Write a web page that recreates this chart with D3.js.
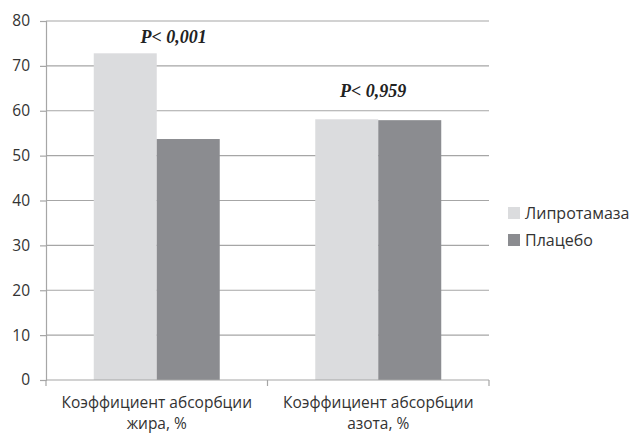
<!DOCTYPE html>
<html><head><meta charset="utf-8">
<script src="https://cdn.jsdelivr.net/npm/d3@7"></script>
<style>body{margin:0;background:#fff;} svg{display:block;}</style>
</head><body>
<svg id="c" width="632" height="435"></svg>
<script>
const categories = [["Коэффициент абсорбции","жира, %"],["Коэффициент абсорбции","азота, %"]];
const seriesNames = ["Липротамаза","Плацебо"];
const lipro = [72.8, 58.1];
const placebo = [53.7, 57.9];
const pLabels = ["P< 0,001","P< 0,959"];
const yTicks = [0,10,20,30,40,50,60,70,80];
const colors = ["#dbdcde","#8b8c90"];

const svg = d3.select("#c");
const m = {l:46, r:143, t:21, b:55};
const W = 632, H = 435;
const x = d3.scaleBand().domain(d3.range(categories.length)).range([m.l, W-m.r]).paddingInner(0).paddingOuter(0);
const x1 = d3.scaleBand().domain([0,1]).range([0, x.bandwidth()]).paddingOuter(0.758).paddingInner(0);
const y = d3.scaleLinear().domain([0,80]).range([H-m.b, m.t]);

// grid
svg.append("g").selectAll("line").data(yTicks.filter(d=>d>0)).join("line")
  .attr("x1", m.l).attr("x2", W-m.r).attr("y1", d=>y(d)).attr("y2", d=>y(d))
  .attr("stroke","#a6a6a6").attr("stroke-width",1.2);

// y axis
const ya = svg.append("g").attr("transform",`translate(${m.l},0)`)
  .call(d3.axisLeft(y).tickValues(yTicks).tickSize(6).tickPadding(10));
ya.select(".domain").attr("stroke","#a6a6a6").attr("stroke-width",1.2);
ya.selectAll(".tick line").attr("stroke","#a6a6a6").attr("stroke-width",1.2);
ya.selectAll("text").attr("font-family","Open Sans, sans-serif").attr("font-size",15.5).attr("fill","#333");

// bars
const data = [lipro, placebo];
const g = svg.append("g");
categories.forEach((c,i)=>{
  data.forEach((s,j)=>{
    g.append("rect").attr("x", x(i)+x1(j)).attr("width", x1.bandwidth())
     .attr("y", y(s[i])).attr("height", y(0)-y(s[i])).attr("fill", colors[j]);
  });
});

// x axis
const xa = svg.append("g").attr("transform",`translate(0,${y(0)})`);
xa.append("line").attr("x1",m.l).attr("x2",W-m.r).attr("stroke","#a6a6a6").attr("stroke-width",1.2);
const bounds = [m.l, ...categories.map((c,i)=>x(i)+x.bandwidth())];
xa.selectAll("line.t").data(bounds).join("line").attr("class","t")
  .attr("x1",d=>d).attr("x2",d=>d).attr("y1",0).attr("y2",6).attr("stroke","#a6a6a6").attr("stroke-width",1.2);
categories.forEach((c,i)=>{
  const t = xa.append("text").attr("text-anchor","middle").attr("font-family","Open Sans, sans-serif")
    .attr("font-size",15.5).attr("fill","#333");
  c.forEach((line,k)=>t.append("tspan").attr("x", x(i)+x.bandwidth()/2).attr("y", 28+k*21).text(line));
});

// p labels
const pDx = [17, -5], pDy = [10, 22];
pLabels.forEach((p,i)=>{
  const top = Math.max(lipro[i], placebo[i]);
  svg.append("text").attr("x", x(i)+x.bandwidth()/2 + pDx[i]).attr("y", y(top)-pDy[i])
    .attr("text-anchor","middle").attr("font-family","Liberation Serif, Times New Roman, serif")
    .attr("font-weight","bold").attr("font-style","italic").attr("font-size",18).attr("fill","#222")
    .text(p);
});

// legend
const lg = svg.append("g").attr("transform","translate(508,207)");
seriesNames.forEach((n,j)=>{
  lg.append("rect").attr("x",0).attr("y",j*27).attr("width",12).attr("height",12).attr("fill",colors[j]);
  lg.append("text").attr("x",17).attr("y",j*27+11.5).attr("font-family","Open Sans, sans-serif")
    .attr("font-size",16).attr("fill","#333").text(n);
});
</script>
</body></html>
